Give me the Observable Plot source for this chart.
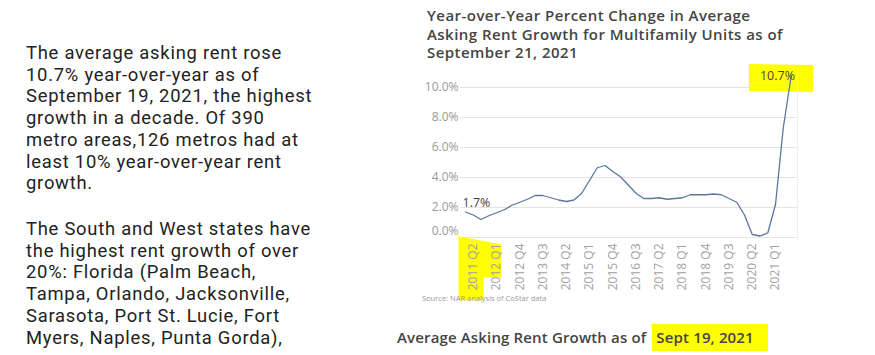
<!DOCTYPE html>
<html><head><meta charset="utf-8">
<script src="https://cdn.jsdelivr.net/npm/d3@7"></script>
<script src="https://cdn.jsdelivr.net/npm/@observablehq/plot@0.6"></script>
<style>
body{margin:0;width:875px;height:355px;overflow:hidden;background:#fff;position:relative;font-family:"Open Sans",sans-serif}
.para{position:absolute;left:26px;font-family:Roboto,sans-serif;font-size:18.4px;line-height:21.7px;color:#222;white-space:nowrap;letter-spacing:0.75px}
#p1{top:42px}
#p2{top:218px}
#title{position:absolute;left:427px;top:6px;font-size:15px;line-height:18.5px;font-weight:600;color:#444;white-space:nowrap;letter-spacing:0.45px}
#chart{position:absolute;left:400px;top:60px}
#chart svg{overflow:visible}
#source{position:absolute;left:422px;top:293px;font-size:7.5px;color:#999;white-space:nowrap}
#caption{position:absolute;left:397px;top:327px;font-size:15px;line-height:20px;font-weight:600;color:#444;white-space:nowrap;letter-spacing:0.15px}
#caption .hl{background:#ffff00;padding:3px 14px 4px 4px;margin-left:2px}
</style></head><body>
<div id="p1" class="para">The average asking rent rose<br>10.7% year-over-year as of<br>September 19, 2021, the highest<br>growth in a decade. Of 390<br>metro areas,126 metros had at<br>least 10% year-over-year rent<br>growth.</div>
<div id="p2" class="para">The South and West states have<br>the highest rent growth of over<br>20%: Florida (Palm Beach,<br>Tampa, Orlando, Jacksonville,<br>Sarasota, Port St. Lucie, Fort<br>Myers, Naples, Punta Gorda),</div>
<div id="title">Year-over-Year Percent Change in Average<br>Asking Rent Growth for Multifamily Units as of<br>September 21, 2021</div>
<div id="chart"></div>
<div id="source">Source: NAR analysis of CoStar data</div>
<div id="caption">Average Asking Rent Growth as of <span class="hl">Sept 19, 2021</span></div>
<script>
const quarters = [
  "2011 Q1","2011 Q2","2011 Q3","2011 Q4",
  "2012 Q1","2012 Q2","2012 Q3","2012 Q4",
  "2013 Q1","2013 Q2","2013 Q3","2013 Q4",
  "2014 Q1","2014 Q2","2014 Q3","2014 Q4",
  "2015 Q1","2015 Q2","2015 Q3","2015 Q4",
  "2016 Q1","2016 Q2","2016 Q3","2016 Q4",
  "2017 Q1","2017 Q2","2017 Q3","2017 Q4",
  "2018 Q1","2018 Q2","2018 Q3","2018 Q4",
  "2019 Q1","2019 Q2","2019 Q3","2019 Q4",
  "2020 Q1","2020 Q2","2020 Q3","2020 Q4",
  "2021 Q1","2021 Q2","2021 Q3"
];
const growth = [
  1.7,1.5,1.2,1.45,
  1.65,1.85,2.15,2.35,
  2.55,2.8,2.8,2.65,
  2.5,2.4,2.5,2.95,
  3.8,4.65,4.8,4.4,
  4.05,3.5,2.95,2.6,
  2.6,2.65,2.55,2.6,
  2.65,2.85,2.85,2.85,
  2.9,2.85,2.6,2.35,
  1.5,0.2,0.1,0.3,
  2.2,7.3,10.7
];
const tickQuarters = ["2011 Q2","2012 Q1","2012 Q4","2013 Q3","2014 Q2","2015 Q1","2015 Q4","2016 Q3","2017 Q2","2018 Q1","2018 Q4","2019 Q3","2020 Q2","2021 Q1"];
const yTicks = [0,2,4,6,8,10];
const highlightedTicks = ["2011 Q2","2012 Q1"];

const data = quarters.map((q,i)=>({q, v: growth[i]}));
const pct = d => d.toFixed(1) + "%";

const chart = Plot.plot({
  width: 420, height: 245,
  marginLeft: 60, marginRight: 23, marginTop: 12, marginBottom: 65,
  style: {fontFamily: "'Open Sans', sans-serif", background: "transparent", overflow: "visible"},
  x: {type: "point", domain: quarters, padding: 0, insetLeft: 5, insetRight: 6.5},
  y: {domain: [-0.2, 11]},
  marks: [
    Plot.gridY(yTicks, {stroke: "#e4e4e4", strokeOpacity: 1}),
    Plot.frame({anchor: "right", stroke: "#eeeeee"}),
    Plot.axisY(yTicks.filter(d => d > 0), {tickSize: 0, tickPadding: 2, tickFormat: pct, color: "#999", fontSize: 12, label: null}),
    Plot.axisY([0], {tickSize: 0, tickPadding: 2, tickFormat: pct, color: "#999", fontSize: 12, label: null, dy: -6}),
    Plot.axisX(tickQuarters, {tickSize: 0, tickRotate: -90, tickPadding: 3, color: "#a0a0a0", fontSize: 12, label: null}),
    Plot.lineY(data, {x: "q", y: "v", stroke: "#5b77a0", strokeWidth: 1.3}),
    Plot.text([data[0]], {x: "q", y: "v", text: d => pct(d.v), textAnchor: "start", dx: -3, dy: -9, fill: "#444", fontSize: 12.5}),
    Plot.text([data[data.length - 1]], {x: "q", y: "v", text: d => pct(d.v), textAnchor: "end", dx: 4, dy: -1, fill: "#444", fontSize: 12.5, className: "last-label"})
  ]
});
document.getElementById("chart").appendChild(chart);

// highlighter annotations derived from rendered label boxes
const svgRect = chart.getBoundingClientRect();
const box = el => { const r = el.getBoundingClientRect(); return {x: r.left - svgRect.left, y: r.top - svgRect.top, w: r.width, h: r.height}; };
const hlLayer = d3.select(chart).insert("g", ":first-child").attr("fill", "#ffff00");
const lastText = chart.querySelector(".last-label text");
if (lastText) {
  const b = box(lastText);
  hlLayer.append("path").attr("d", `M${b.x-11},${b.y-3}L${b.x+b.w+18},${b.y-2}L${b.x+b.w+18},${b.y+b.h+8}L${b.x-11},${b.y+b.h+7}Z`);
}
const tickTexts = Array.from(chart.querySelectorAll("text")).filter(t => highlightedTicks.includes(t.textContent));
if (tickTexts.length === 2) {
  const b1 = box(tickTexts[0]), b2 = box(tickTexts[1]);
  const c1 = b1.x + b1.w / 2, c2 = b2.x + b2.w / 2;
  const left = c1 - 14, mid = c1 + 11, right = c2 + 5.5;
  hlLayer.append("path").attr("d",
    `M${left},${b1.y-7}L${right},${b2.y+1}L${right},${b2.y+34}L${mid},${b2.y+34}L${mid},${b1.y+b1.h+10}L${left},${b1.y+b1.h+10}Z`);
}
</script>
</body></html>
